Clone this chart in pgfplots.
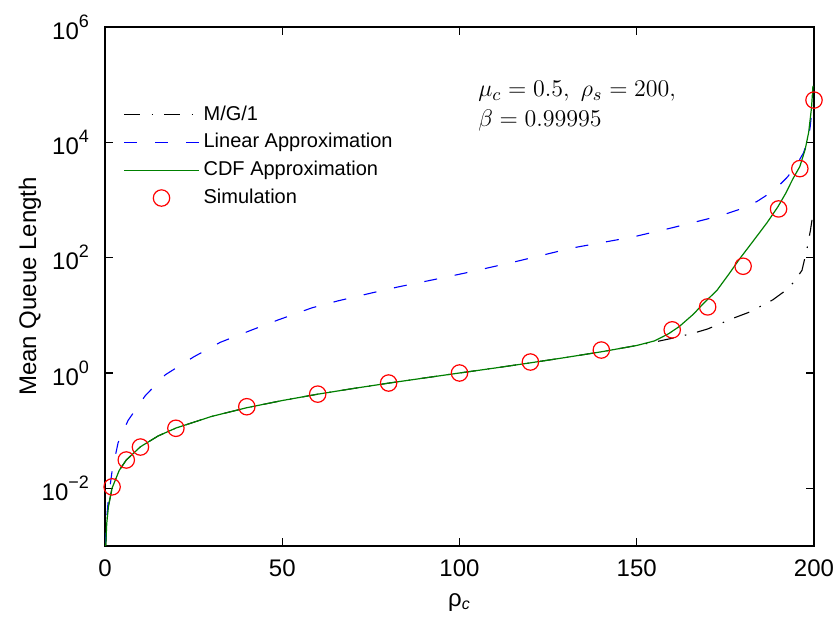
\documentclass[border=0pt]{standalone}
\usepackage[no-math]{fontspec}
\setmainfont{Liberation Sans}
\usepackage{pgfplots}
\pgfplotsset{compat=1.18}
\newcommand\tp[1]{10\raisebox{6pt}{\fontsize{9}{9}\selectfont #1}}
\begin{document}
\begin{tikzpicture}
\begin{axis}[name=ax, scale only axis, width=354.5pt, height=259.5pt,
  xmin=0, xmax=200, ymode=log, ymin=1e-3, ymax=1e6,
  xtick={0,50,100,150,200}, ytick={1e-2,1,1e2,1e4,1e6},
  yticklabels={\tp{−2},\tp{0},\tp{2},\tp{4},\tp{6}},
  yminorticks=false, xminorticks=false,
  major tick length=4pt,
  axis line style={line width=0.7pt},
  every tick/.style={line width=0.7pt, black},
  /pgf/number format/assume math mode=true,
  ticklabel style={font=\fontsize{12}{14}\selectfont},
  xticklabel style={yshift=-3.5pt},
  yticklabel style={xshift=-4.5pt},
  xlabel={ρ\textsubscript{\itshape c}},
  ylabel={Mean Queue Length},
  label style={font=\fontsize{12}{14}\selectfont},
  xlabel style={at={(axis description cs:0.5,-0.108)}, anchor=center},
  ylabel style={at={(axis description cs:-0.106,0.5)}, anchor=center},
  legend style={at={(rel axis cs:0.0254,0.857)}, anchor=north west, draw=none, fill=none,
    inner xsep=0pt, inner ysep=0pt, row sep=1.2pt,
    font=\fontsize{10}{12}\selectfont,
    /tikz/every even column/.append style={column sep=0.5pt}},
  legend cell align=left,
  legend image code/.code={\draw[mark repeat=2,mark phase=2,#1] plot coordinates {(0pt,0pt) (18.75pt,0pt) (37.5pt,0pt)};},
]
\addplot[black, line width=0.55pt, dash pattern=on 8pt off 5.75pt on 0.75pt off 5.5pt] coordinates {
(0.2,0.001) (0.5,0.0025) (1,0.005) (2,0.0101) (4,0.0204) (6,0.031) (10,0.0526) (15,0.081) (20,0.111) (30,0.176) (40,0.25) (50,0.333) (60,0.429) (70,0.538) (80,0.667) (90,0.818) (100,1.0) (110,1.22) (120,1.5) (130,1.86) (140,2.33) (150,3.0) (155,3.44) (160,4.0) (166,4.9) (170,5.8) (177,8.8) (182,11.5) (188.4,18.6) (192,27) (194,36) (196.6,60) (198,140) (199,300) (199.5,480) (199.8,700)
};
\addlegendentry{M/G/1}
\addplot[blue, line width=0.55pt, dash pattern=on 6.5pt off 9pt] coordinates {
(0.1,0.001) (0.5,0.0032) (1,0.007) (2,0.02) (3.7,0.062) (6.5,0.15) (11.3,0.4) (17,0.93) (25,1.9) (32.5,3.4) (41.5,5.6) (48.8,8.3) (58.4,13.5) (65.7,17.8) (75.3,24.5) (82.6,31) (93.9,43) (101.5,54) (115,83) (132,148) (149,229) (160,330) (170,470) (175,570) (180,720) (184,950) (187,1250) (190,1750) (192.5,2500) (195,4000) (197,6500) (198.3,11000) (198.9,18200) (199.4,35000)
};
\addlegendentry{Linear Approximation}
\addplot[color={rgb,1:red,0;green,0.5;blue,0}, line width=0.6pt] coordinates {
(0.2,0.001) (0.5,0.0025) (1,0.005) (2,0.0101) (4,0.0204) (6,0.031) (10,0.0526) (15,0.081) (20,0.111) (30,0.176) (40,0.25) (50,0.333) (60,0.429) (70,0.538) (80,0.667) (90,0.818) (100,1.0) (110,1.22) (120,1.5) (130,1.86) (140,2.33) (150,3.0) (155,3.6) (159,4.8) (162,6.4) (166,10.5) (169,16.5) (172.6,27) (176,52) (179,95) (183,200) (186.7,400) (189.8,760) (192,1300) (194,2300) (196,3800) (197.5,7500) (198.5,15000) (199.3,40000) (199.7,95000)
};
\addlegendentry{CDF Approximation}
\addplot[only marks, mark=o, mark size=4.1pt, red, mark options={line width=0.6pt}] coordinates {
(2,0.0106) (6,0.031) (10,0.052) (20,0.11) (40,0.26) (60,0.43) (80,0.67) (100,1.0) (120,1.55) (140,2.5) (160,5.6) (170,14) (180,71) (190,700) (196,3500) (200,54000)
};
\addlegendentry{Simulation}
\node[anchor=north west, inner sep=0pt, align=left, font=\fontsize{13}{15}\selectfont] at (rel axis cs:0.526,0.896) {$\mu_c = 0.5,\ \rho_s = 200,$\\ $\beta = 0.99995$};
\end{axis}
\pgfresetboundingbox
\path ([shift={(-52.5pt,-38.5pt)}]ax.south west) rectangle ([shift={(12pt,13.5pt)}]ax.north east);
\end{tikzpicture}
\end{document}
